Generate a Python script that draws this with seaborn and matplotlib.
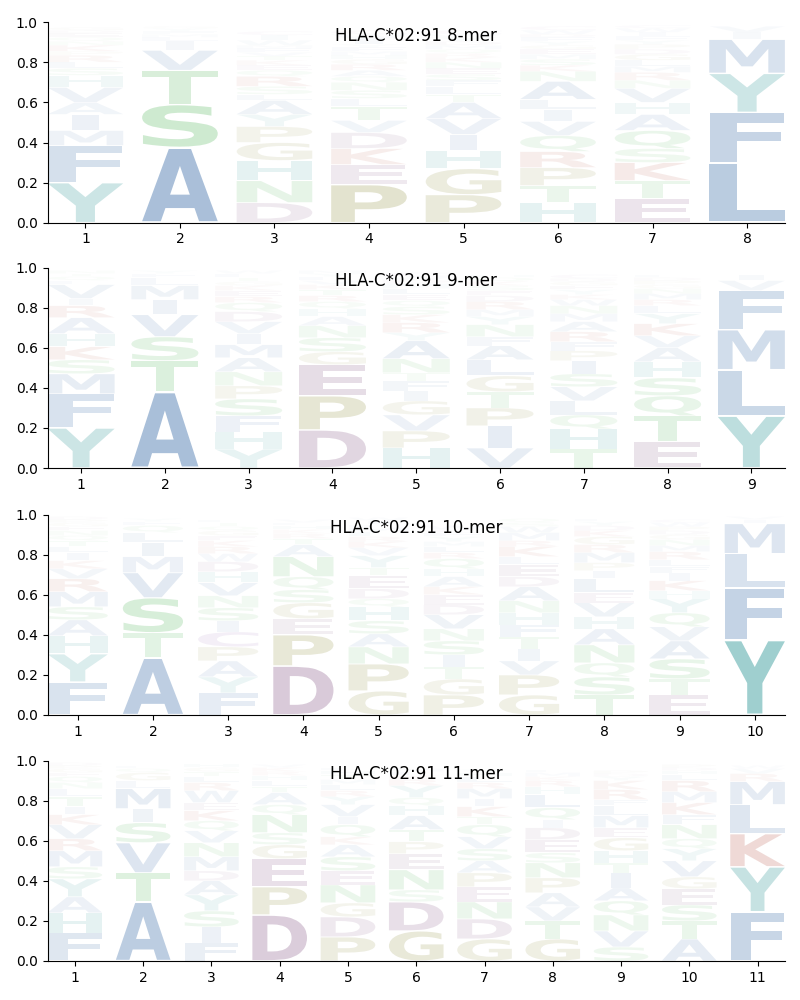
import matplotlib
matplotlib.use("Agg")
import matplotlib.pyplot as plt
import seaborn as sns
from matplotlib.textpath import TextPath
from matplotlib.patches import PathPatch
from matplotlib.font_manager import FontProperties
from matplotlib.transforms import Affine2D

# ---------------- data ----------------
titles = ["HLA-C*02:91 8-mer", "HLA-C*02:91 9-mer", "HLA-C*02:91 10-mer", "HLA-C*02:91 11-mer"]

letters_8 = ["YFMIAVHSLRPKNQEDG", "ASTVILMFYG", "DNHGPYALSRQEKTVFMWIC", "PEKDVTLSNQARGHMFYIWC",
             "PGHIVATLFSENKRQMDYWC", "HTPRQVILANKSMEGYFDWC", "ETKSQAHVNRMLGDPYFIWC", "LFYMIV"]
heights_8 = [
    [.20, .185, .075, .08, .06, .075, .06, .035, .03, .035, .02, .03, .02, .02, .02, .015, .015],
    [.375, .215, .17, .10, .045, .02, .015, .015, .015, .01],
    [.10, .11, .10, .09, .08, .06, .07, .03, .04, .05, .03, .025, .025, .02, .02, .02, .015, .025, .025, .02],
    [.19, .10, .08, .08, .06, .07, .04, .04, .04, .03, .03, .03, .025, .02, .02, .02, .015, .03, .02, .02],
    [.14, .13, .09, .08, .08, .08, .04, .04, .03, .03, .03, .03, .025, .02, .02, .02, .02, .02, .015, .02],
    [.10, .085, .09, .08, .08, .07, .06, .05, .09, .05, .03, .03, .025, .025, .02, .02, .02, .015, .02, .02],
    [.12, .09, .09, .07, .09, .08, .06, .07, .04, .04, .03, .03, .03, .025, .025, .02, .02, .02, .02, .015],
    [.30, .25, .195, .17, .035, .03],
]

letters_9 = ["YFMSKHARIVLQTN", "ATSVIMLFY", "YHFSPNAMIVDQREKGTLW", "DPEGSNAHQRTKVLYM",
             "HPVGIFTNAYRKSQELMDWC", "VIPTGLAFNYMRDESKQH", "THQLVSIPFRAMNWKYEGDC",
             "ETQSHAVKYLRMNGPDF", "YLMFVI"]
heights_9 = [
    [.20, .17, .10, .07, .065, .065, .08, .06, .035, .07, .02, .02, .015, .015],
    [.38, .155, .12, .11, .075, .07, .04, .02, .015],
    [.095, .085, .08, .085, .065, .07, .07, .065, .055, .06, .05, .045, .03, .03, .025, .02, .02, .02, .015],
    [.19, .17, .155, .065, .07, .06, .045, .04, .035, .03, .03, .025, .02, .02, .015, .015],
    [.10, .085, .08, .07, .05, .05, .04, .07, .09, .04, .05, .04, .04, .03, .03, .03, .025, .02, .015, .02],
    [.10, .11, .09, .08, .08, .08, .07, .045, .06, .04, .035, .04, .03, .025, .025, .02, .02, .015],
    [.095, .10, .07, .07, .07, .065, .065, .05, .045, .05, .05, .04, .04, .03, .025, .025, .02, .02, .015, .02],
    [.13, .13, .10, .09, .08, .07, .06, .06, .05, .04, .03, .03, .025, .02, .02, .015, .015],
    [.26, .23, .20, .195, .05, .03],
]

letters_10 = ["FYHASMRVKILTQNEGPD", "ATSVMILQFY", "FYAPCISNVHDWRKEGQTL", "DPEGSQNATRKHLV",
              "GPNASHQDETYVKRLMFIW", "PGTISNVDEKAHQRLMYFCW", "GPVITFHNADELKRMWSQ",
              "TSQNAHVELIPMRGKDYF", "ETSAVQYHKIFLRMNGDPWC", "YFLMIV"]
heights_10 = [
    [.165, .14, .09, .08, .065, .075, .065, .05, .04, .04, .03, .03, .025, .025, .02, .02, .015, .015],
    [.285, .125, .175, .125, .08, .07, .05, .035, .02, .015],
    [.11, .08, .08, .07, .075, .055, .065, .06, .065, .055, .05, .04, .035, .03, .025, .025, .02, .02, .015],
    [.245, .155, .08, .08, .065, .065, .10, .06, .03, .025, .02, .02, .015, .015],
    [.12, .135, .085, .065, .065, .07, .04, .05, .065, .04, .06, .04, .03, .025, .025, .02, .015, .02, .015],
    [.10, .08, .06, .06, .07, .06, .07, .05, .05, .04, .05, .04, .05, .03, .03, .025, .025, .02, .015, .02],
    [.10, .10, .07, .06, .06, .06, .06, .06, .07, .05, .06, .04, .05, .03, .04, .03, .02, .02],
    [.10, .09, .07, .09, .08, .06, .07, .05, .07, .04, .04, .05, .04, .04, .03, .025, .02, .015],
    [.10, .08, .10, .09, .07, .07, .07, .04, .05, .04, .03, .035, .04, .03, .03, .025, .02, .02, .02, .015],
    [.375, .26, .17, .15, .02, .015],
]

letters_11 = ["FHAYSMRVKITLNQEGPD", "ATVSIMLGQF", "FISYADMNVQKEWRLTGH", "DPEGSNQATLHRKV",
              "PDGNESAKQIVYRLMTHF", "GDSNEPTAHQYRKLM", "GDNEPASVQTKIMRLHY",
              "GTVAPNSEDIQLHRKMF", "SVNQAITHGEMLFRKYDP", "ATSEGVYQNFKMRLHDP", "FYKLMRVW"]
heights_11 = [
    [.14, .10, .08, .09, .06, .08, .06, .07, .05, .04, .05, .04, .03, .03, .02, .02, .015, .015],
    [.295, .145, .15, .10, .07, .10, .04, .04, .02, .015],
    [.09, .08, .08, .08, .07, .05, .07, .07, .06, .05, .05, .04, .06, .04, .03, .025, .02, .02],
    [.23, .14, .14, .07, .06, .09, .05, .06, .03, .03, .025, .02, .02, .015],
    [.12, .10, .07, .09, .07, .07, .06, .04, .06, .04, .06, .04, .03, .03, .025, .025, .02, .015],
    [.15, .145, .06, .10, .08, .06, .06, .07, .05, .04, .06, .03, .02, .02, .015],
    [.11, .10, .085, .075, .07, .06, .06, .06, .06, .04, .05, .04, .05, .03, .03, .02, .015],
    [.11, .09, .07, .07, .075, .075, .05, .065, .06, .04, .06, .065, .04, .03, .02, .02, .015],
    [.07, .08, .08, .07, .065, .075, .05, .06, .065, .05, .06, .05, .03, .05, .045, .02, .015, .015],
    [.11, .09, .08, .08, .06, .08, .06, .05, .07, .05, .06, .055, .055, .03, .02, .015, .015],
    [.245, .225, .165, .145, .115, .04, .025, .015],
]

panels = [(letters_8, heights_8), (letters_9, heights_9), (letters_10, heights_10), (letters_11, heights_11)]

# amino-acid colour groups
blue = (29/255, 87/255, 155/255)
teal = (0.0, 0.5, 0.5)
green = (30/255, 160/255, 40/255)
purple = (100/255, 40/255, 100/255)
olive = (110/255, 110/255, 0.0)
red = (160/255, 30/255, 10/255)
violet = (110/255, 50/255, 150/255)
aa_colors = {}
for aa in "AFILMVW":
    aa_colors[aa] = blue
for aa in "YH":
    aa_colors[aa] = teal
for aa in "STNQ":
    aa_colors[aa] = green
for aa in "DE":
    aa_colors[aa] = purple
for aa in "PG":
    aa_colors[aa] = olive
for aa in "KR":
    aa_colors[aa] = red
aa_colors["C"] = violet

# ---------------- style ----------------
sns.set_style("ticks", {"axes.edgecolor": "black", "xtick.color": "black",
                        "ytick.color": "black", "text.color": "black",
                        "axes.labelcolor": "black"})
plt.rcParams["font.family"] = ["DejaVu Sans"]

fp = FontProperties(family="DejaVu Sans", weight="bold")
glyphs = {}


def get_glyph(ch):
    if ch not in glyphs:
        glyphs[ch] = TextPath((0, 0), ch, size=1, prop=fp)
    return glyphs[ch]


E_WIDTH = get_glyph("E").get_extents().width


def draw_letter(ax, ch, x, y0, h, width=0.8):
    tp = get_glyph(ch)
    bb = tp.get_extents()
    sx = min(width / bb.width, width / E_WIDTH)
    w_ink = bb.width * sx
    hh = h * 0.96
    tr = (Affine2D().translate(-bb.x0, -bb.y0)
          .scale(sx, hh / bb.height)
          .translate(x - w_ink / 2, y0 + (h - hh) / 2))
    path = tr.transform_path(tp)
    patch = PathPatch(path, facecolor=aa_colors[ch], edgecolor="none",
                      alpha=min(1.0, h), lw=0)
    ax.add_patch(patch)


fig = plt.figure(figsize=(8, 10), dpi=100)
bottoms = [0.7773, 0.532, 0.285, 0.039]
left, width, height = 0.0595, 0.9216, 0.2005

for (letters, heights), title, b in zip(panels, titles, bottoms):
    ax = fig.add_axes([left, b, width, height])
    n = len(letters)
    for i, (lets, hs) in enumerate(zip(letters, heights)):
        x = i + 1
        y = 0.0
        for ch, h in zip(lets, hs):
            draw_letter(ax, ch, x, y, h)
            y += h
    ax.set_xlim(0.6, n + 0.4)
    ax.set_ylim(0, 1)
    ax.set_xticks(range(1, n + 1))
    ax.set_yticks([0.0, 0.2, 0.4, 0.6, 0.8, 1.0])
    ax.tick_params(labelsize=10, length=3.5, width=0.8)
    for s in ax.spines.values():
        s.set_linewidth(0.8)
    ax.text(0.5, 0.933, title, transform=ax.transAxes, ha="center", va="center",
            fontsize=12)
    sns.despine(ax=ax)

fig.savefig("out.png", dpi=100)
